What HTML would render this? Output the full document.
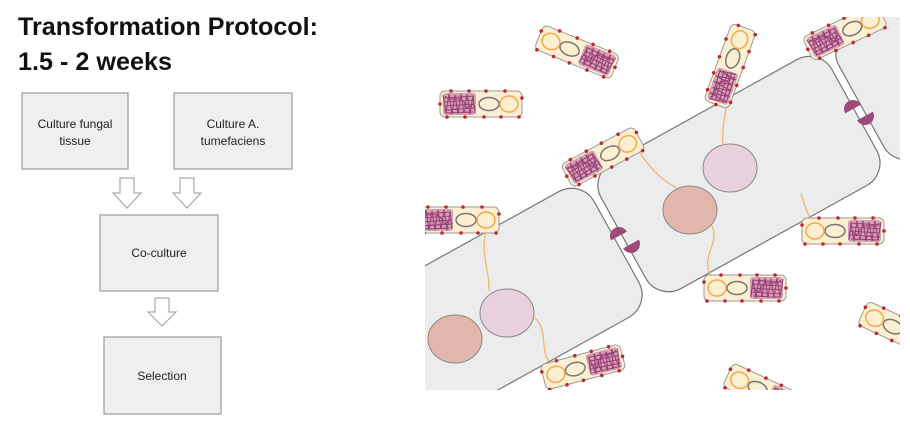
<!DOCTYPE html>
<html><head><meta charset="utf-8"><style>
html,body{margin:0;padding:0;background:#fff;width:910px;height:422px;overflow:hidden}
svg{display:block;overflow:hidden}
</style></head><body>
<svg width="910" height="422" viewBox="0 0 910 422" xmlns="http://www.w3.org/2000/svg">
<defs>
<clipPath id="clip"><rect x="425" y="17" width="475" height="373"/></clipPath>
<g id="bac">
<rect x="-41" y="-13" width="82" height="26" rx="5" fill="#fdefd2" stroke="#999" stroke-width="1"/>
<rect x="-38" y="-11" width="33" height="22" rx="3" fill="#c48aab" opacity="0.75"/>
<path d="M-38,-9 L-35,9 L-32,-10 L-29,10 L-26,-9 L-23,10 L-20,-10 L-17,9 L-14,-10 L-11,10 L-8,-8 L-6,9 M-37,-6 L-7,-8 M-37,-2 L-7,-4 M-37,2 L-7,0 M-37,6 L-7,4 M-36,9 L-8,8 M-36,-8 C-30,0 -20,-12 -15,2 C-12,8 -8,-6 -6,4" fill="none" stroke="#9b3f76" stroke-width="1.1"/>
<ellipse cx="8" cy="0" rx="10" ry="6.5" fill="none" stroke="#777" stroke-width="1.5"/>
<ellipse cx="28" cy="0" rx="9" ry="8" fill="none" stroke="#f5a84a" stroke-width="1.5"/>
<g fill="#c0282c">
<circle cx="-41" cy="0" r="1.8"/><circle cx="-30" cy="-13" r="1.8"/><circle cx="-12" cy="-13" r="1.8"/><circle cx="5" cy="-13" r="1.8"/><circle cx="24" cy="-13" r="1.8"/><circle cx="41" cy="-6" r="1.8"/>
<circle cx="-34" cy="13" r="1.8"/><circle cx="-16" cy="13" r="1.8"/><circle cx="3" cy="13" r="1.8"/><circle cx="20" cy="13" r="1.8"/><circle cx="38" cy="13" r="1.8"/>
</g>
</g>
</defs>

<g font-family="Liberation Sans, sans-serif" font-weight="bold" fill="#111">
<text x="18" y="35" font-size="25" textLength="300" lengthAdjust="spacingAndGlyphs">Transformation Protocol:</text>
<text x="18" y="70" font-size="25" textLength="154" lengthAdjust="spacingAndGlyphs">1.5 - 2 weeks</text>
</g>

<g fill="#efefef" stroke="#9a9a9a" stroke-width="1.2">
<rect x="22" y="93" width="106" height="76"/>
<rect x="174" y="93" width="118" height="76"/>
<rect x="100" y="215" width="118" height="76"/>
<rect x="104" y="337" width="117" height="77"/>
</g>
<g fill="#fff" stroke="#aaa" stroke-width="1.2">
<path d="M120,178 H134 V193 H141 L127,208 L113,193 H120 Z"/>
<path d="M180,178 H194 V193 H201 L187,208 L173,193 H180 Z"/>
<path d="M155,298 H169 V312 H176 L162,326 L148,312 H155 Z"/>
</g>
<g font-family="Liberation Sans, sans-serif" font-size="12" fill="#222" text-anchor="middle">
<text x="75" y="128">Culture fungal</text>
<text x="75" y="145">tissue</text>
<text x="233" y="128">Culture A.</text>
<text x="233" y="145">tumefaciens</text>
<text x="159" y="257">Co-culture</text>
<text x="162" y="380">Selection</text>
</g>

<g clip-path="url(#clip)">
<g transform="translate(620,240) rotate(-29)" fill="#ececec" stroke="#777" stroke-width="1.2">
<rect x="-420" y="-72" width="416" height="144" rx="26"/>
<rect x="4" y="-72" width="264" height="144" rx="26"/>
<rect x="276" y="-72" width="300" height="144" rx="26"/>
</g>
<g fill="#9d4a78">
<path d="M-9,0 A9,9 0 0 1 9,0 Z" transform="translate(619,236) rotate(-29)"/>
<path d="M-9,0 A9,9 0 0 0 9,0 Z" transform="translate(631,244) rotate(-29)"/>
<path d="M-9,0 A9,9 0 0 1 9,0 Z" transform="translate(853,109) rotate(-29)"/>
<path d="M-9,0 A9,9 0 0 0 9,0 Z" transform="translate(865,116) rotate(-29)"/>
</g>
<g stroke="#888" stroke-width="1">
<ellipse cx="730" cy="168" rx="27" ry="24" fill="#e8d1dc"/>
<ellipse cx="690" cy="210" rx="27" ry="24" fill="#e2b6ab"/>
<ellipse cx="507" cy="313" rx="27" ry="24" fill="#e8d1dc"/>
<ellipse cx="455" cy="339" rx="27" ry="24" fill="#e2b6ab"/>
</g>
<g fill="none" stroke="#f5b060" stroke-width="1.2">
<path d="M727,103 C724,120 722,130 723,145"/>
<path d="M638,150 C648,165 660,180 677,188"/>
<path d="M712,226 C720,245 700,255 711,276"/>
<path d="M801,193 C804,205 807,212 811,220"/>
<path d="M486,232 C480,255 490,270 489,291"/>
<path d="M535,318 C548,330 540,350 549,361"/>
</g>
<use href="#bac" transform="translate(577,52) rotate(22) scale(-1,1)"/>
<use href="#bac" transform="translate(481,104)"/>
<use href="#bac" transform="translate(730,66) rotate(-70)"/>
<use href="#bac" transform="translate(845,32) rotate(-25)"/>
<use href="#bac" transform="translate(603,157) rotate(-28)"/>
<use href="#bac" transform="translate(458,220)"/>
<use href="#bac" transform="translate(843,231) scale(-1,1)"/>
<use href="#bac" transform="translate(745,288) scale(-1,1)"/>
<use href="#bac" transform="translate(900,330) rotate(25) scale(-1,1)"/>
<use href="#bac" transform="translate(583,367) rotate(-15) scale(-1,1)"/>
<use href="#bac" transform="translate(765,392) rotate(25) scale(-1,1)"/>
</g>
</svg>
</body></html>
